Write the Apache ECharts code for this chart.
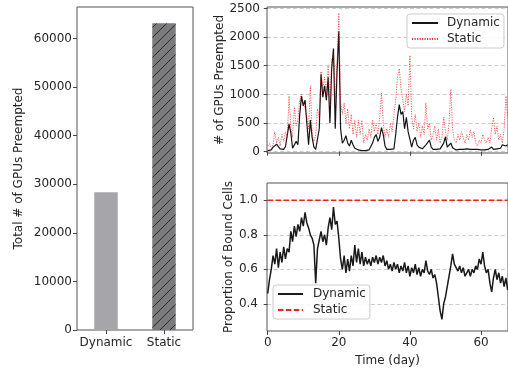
<!DOCTYPE html>
<html><head><meta charset="utf-8">
<script src="https://cdn.jsdelivr.net/npm/echarts@6/dist/echarts.min.js"></script>
<style>html,body{margin:0;padding:0;background:#fff}#c{width:508px;height:369px}</style>
</head><body><div id="c"></div>
<script>
// ---- data ----
const barCategories = ['Dynamic', 'Static'];
const totalPreempted = [28350, 63170];
const totalTicks = [0, 10000, 20000, 30000, 40000, 50000, 60000];

const STEP_DAYS = 0.5; // sampling step of the time series (days)
const dayTicks = [0, 20, 40, 60];
const gpuTicks = [0, 500, 1000, 1500, 2000, 2500];
const boundTicks = [0.4, 0.6, 0.8, 1.0];

const preemptDynamic = [
  20,40,30,80,60,130,90,50,80,40,
  90,120,480,330,60,40,180,120,650,970,
  800,900,500,120,550,250,80,40,30,400,
  1350,950,1150,900,1300,500,1450,1800,400,1400,
  2100,400,150,200,280,150,100,200,120,60,
  40,30,60,20,30,20,40,30,50,150,
  250,300,180,250,420,300,100,40,30,40,
  30,50,300,600,820,650,700,400,600,350,
  380,80,200,250,120,80,60,50,80,120,
  100,200,80,40,30,40,30,50,60,150,
  260,80,60,150,70,40,30,50,40,30,
  40,30,50,30,40,60,40,30,40,50,
  30,40,30,50,40,30,80,40,30,50,
  40,60,120,130,100,120
];
const preemptStatic = [
  100,140,60,120,350,150,250,100,300,180,
  350,250,970,400,250,780,450,550,900,1000,
  850,750,600,400,1150,300,180,300,750,600,
  1400,1100,1300,1000,1500,800,1600,1700,900,1500,
  2420,900,650,850,500,750,400,650,300,550,
  250,550,300,550,150,300,200,400,250,550,
  350,500,300,600,1020,500,250,400,250,500,
  350,650,900,1300,1450,1100,900,700,1000,800,
  1680,600,400,650,350,500,250,450,300,850,
  400,500,200,300,450,200,400,150,250,600,
  350,200,500,1090,400,200,150,300,200,350,
  250,150,300,200,380,250,350,150,100,200,
  150,300,200,150,250,150,400,600,300,450,
  200,300,150,400,970,600
];
const boundDynamic = [
  0.46,0.54,0.60,0.68,0.63,0.72,0.61,0.70,0.64,0.73,
  0.66,0.72,0.70,0.82,0.76,0.85,0.79,0.86,0.82,0.90,
  0.85,0.93,0.87,0.84,0.80,0.78,0.74,0.52,0.72,0.77,
  0.82,0.76,0.80,0.74,0.84,0.90,0.83,0.96,0.86,0.88,
  0.78,0.66,0.60,0.68,0.58,0.66,0.59,0.68,0.62,0.74,
  0.64,0.72,0.63,0.70,0.62,0.67,0.63,0.66,0.62,0.67,
  0.64,0.68,0.63,0.67,0.64,0.68,0.62,0.65,0.60,0.63,
  0.59,0.64,0.60,0.63,0.58,0.62,0.59,0.64,0.58,0.62,
  0.56,0.61,0.58,0.63,0.57,0.61,0.56,0.60,0.58,0.65,
  0.59,0.57,0.60,0.55,0.57,0.52,0.44,0.36,0.31,0.40,
  0.44,0.50,0.56,0.62,0.69,0.63,0.62,0.59,0.62,0.58,
  0.61,0.56,0.58,0.60,0.56,0.60,0.58,0.62,0.60,0.66,
  0.63,0.70,0.62,0.58,0.60,0.52,0.47,0.55,0.60,0.54,
  0.58,0.52,0.56,0.50,0.55,0.48
];
const boundStatic = 1.0;
const boundStaticSpan = [0, 67.5];

// ---- helpers ----
const toPairs = arr => arr.map((v, i) => [i * STEP_DAYS, v]);
function hatchPattern() {
  const s = 10, c = document.createElement('canvas');
  c.width = s; c.height = s;
  const g = c.getContext('2d');
  g.fillStyle = '#7b7b7d'; g.fillRect(0, 0, s, s);
  g.strokeStyle = '#222'; g.lineWidth = 0.9;
  g.beginPath();
  g.moveTo(0, s); g.lineTo(s, 0);
  g.moveTo(-1, 1); g.lineTo(1, -1);
  g.moveTo(s - 1, s + 1); g.lineTo(s + 1, s - 1);
  g.stroke();
  return c;
}
const plain = v => String(v);

const FONT = 'DejaVu Sans';
const TXT = '#262626';
const FRAME = '#555';
const gridDash = { show: true, lineStyle: { color: '#c0c0c0', width: 0.8, type: [4, 2.5] } };
const tickStyle = { color: '#444', width: 1 };
const legendCommon = {
  orient: 'vertical', padding: [3, 4, 3, 4], itemHeight: 14, itemGap: 4,
  formatter: n => n.split('|')[0],
  backgroundColor: 'rgba(255,255,255,0.85)', borderColor: '#ccc', borderWidth: 1, borderRadius: 3,
  itemStyle: { opacity: 0, color: 'rgba(0,0,0,0)', borderColor: 'rgba(0,0,0,0)', borderWidth: 0 }
};

const chart = echarts.init(document.getElementById('c'), null, { renderer: 'canvas' });
chart.setOption({
  animation: false,
  textStyle: { fontFamily: FONT, color: TXT },
  grid: [
    { left: 77, top: 7, width: 116, height: 323, show: true, borderColor: FRAME, borderWidth: 1, backgroundColor: 'transparent' },
    { left: 267, top: 7, width: 242, height: 146, show: true, borderColor: FRAME, borderWidth: 1, backgroundColor: 'transparent' },
    { left: 267, top: 183, width: 242, height: 148, show: true, borderColor: FRAME, borderWidth: 1, backgroundColor: 'transparent' }
  ],
  xAxis: [
    { gridIndex: 0, type: 'category', data: barCategories,
      axisLine: { show: false },
      axisTick: { show: true, alignWithLabel: true, length: 4, lineStyle: tickStyle },
      axisLabel: { interval: 0, margin: 7, fontSize: 12, color: TXT, fontFamily: FONT } },
    { gridIndex: 1, type: 'value', min: -0.2, max: 67.59,
      axisLine: { show: false }, splitLine: { show: false },
      axisTick: { show: true, length: 4, lineStyle: tickStyle, customValues: dayTicks },
      axisLabel: { show: false } },
    { gridIndex: 2, type: 'value', min: -0.2, max: 67.59,
      axisLine: { show: false }, splitLine: { show: false },
      axisTick: { show: true, length: 4, lineStyle: tickStyle, customValues: dayTicks },
      axisLabel: { margin: 6, fontSize: 12, color: TXT, fontFamily: FONT, customValues: dayTicks, formatter: plain },
      name: 'Time (day)', nameLocation: 'middle', nameGap: 24,
      nameTextStyle: { fontSize: 12, color: TXT, fontFamily: FONT } }
  ],
  yAxis: [
    { gridIndex: 0, type: 'value', min: 0, max: 66500,
      axisLine: { show: false }, splitLine: { show: false },
      axisTick: { show: true, length: 4, lineStyle: tickStyle, customValues: totalTicks },
      axisLabel: { margin: 5, fontSize: 12, color: TXT, fontFamily: FONT, customValues: totalTicks, formatter: plain },
      name: 'Total # of GPUs Preempted', nameLocation: 'middle', nameGap: 52,
      nameTextStyle: { fontSize: 12, color: TXT, fontFamily: FONT } },
    { gridIndex: 1, type: 'value', min: -23, max: 2525,
      axisLine: { show: false }, splitLine: gridDash,
      axisTick: { show: true, length: 4, lineStyle: tickStyle, customValues: gpuTicks },
      axisLabel: { margin: 7, fontSize: 12, color: TXT, fontFamily: FONT, customValues: gpuTicks, formatter: plain },
      name: '# of GPUs Preempted', nameLocation: 'middle', nameGap: 41,
      nameTextStyle: { fontSize: 12, color: TXT, fontFamily: FONT } },
    { gridIndex: 2, type: 'value', min: 0.243, max: 1.1,
      axisLine: { show: false }, splitLine: gridDash,
      axisTick: { show: true, length: 4, lineStyle: tickStyle, customValues: boundTicks },
      axisLabel: { margin: 9, fontSize: 12, color: TXT, fontFamily: FONT, customValues: boundTicks,
                   formatter: v => Number(v).toFixed(1) },
      name: 'Proportion of Bound Cells', nameLocation: 'middle', nameGap: 32,
      nameTextStyle: { fontSize: 12, color: TXT, fontFamily: FONT } }
  ],
  legend: [
    Object.assign({}, legendCommon, { data: ['Dynamic|gpu', 'Static|gpu'], left: 407, top: 14, itemWidth: 26,
      textStyle: { fontSize: 12, color: TXT, fontFamily: FONT, padding: [0, 0, 0, 4] } }),
    Object.assign({}, legendCommon, { data: ['Dynamic|bound', 'Static|bound'], left: 273, top: 285, itemWidth: 25,
      textStyle: { fontSize: 12, color: TXT, fontFamily: FONT, padding: [0, 0, 0, 5] } })
  ],
  series: [
    { type: 'bar', xAxisIndex: 0, yAxisIndex: 0, barWidth: 23.5, silent: true,
      data: [
        { value: totalPreempted[0], itemStyle: { color: '#a6a6aa' } },
        { value: totalPreempted[1], itemStyle: { color: { image: hatchPattern(), repeat: 'repeat' } } }
      ] },
    { name: 'Dynamic|gpu', type: 'line', xAxisIndex: 1, yAxisIndex: 1, data: toPairs(preemptDynamic),
      symbol: 'none', silent: true, z: 3,
      lineStyle: { color: '#151515', width: 1.2 }, itemStyle: { color: '#151515' } },
    { name: 'Static|gpu', type: 'line', xAxisIndex: 1, yAxisIndex: 1, data: toPairs(preemptStatic),
      symbol: 'none', silent: true, z: 4,
      lineStyle: { color: 'rgba(235,0,0,0.8)', width: 0.8, type: [1.2, 1.3] }, itemStyle: { color: 'rgba(235,0,0,0.8)' } },
    { name: 'Dynamic|bound', type: 'line', xAxisIndex: 2, yAxisIndex: 2, data: toPairs(boundDynamic),
      symbol: 'none', silent: true, z: 3,
      lineStyle: { color: '#1a1a1a', width: 1.5 }, itemStyle: { color: '#1a1a1a' } },
    { name: 'Static|bound', type: 'line', xAxisIndex: 2, yAxisIndex: 2,
      data: boundStaticSpan.map(d => [d, boundStatic]),
      symbol: 'none', silent: true, z: 4,
      lineStyle: { color: '#f02020', width: 1.6, type: [5.5, 2.4] }, itemStyle: { color: '#f02020' } }
  ]
});
</script>
</body></html>
